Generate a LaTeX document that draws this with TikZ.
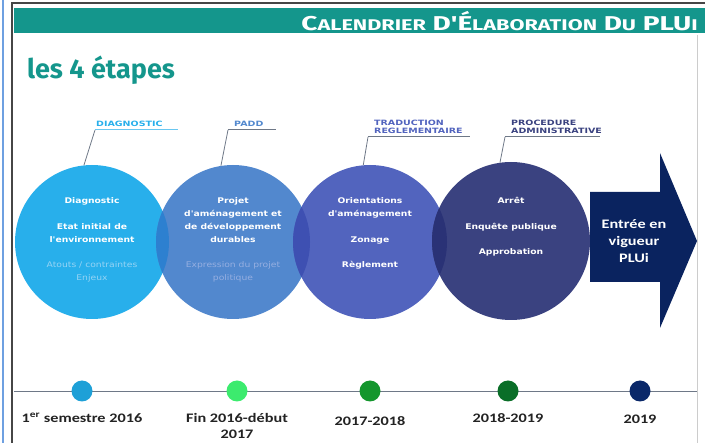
\documentclass[tikz,border=0pt]{standalone}
\usepackage{fontspec}
\setmainfont[FakeStretch=1.25]{Carlito}
\newfontfamily\circfont[FakeStretch=1.18]{DejaVu Sans}
\newfontfamily\lblfont[FakeStretch=1.3]{DejaVu Sans}
\newfontfamily\headfont{Fira Sans}
\usetikzlibrary{positioning}
\definecolor{bannerteal}{RGB}{20,150,140}
\definecolor{frameblue}{RGB}{110,160,225}
\definecolor{framegrey}{RGB}{70,70,70}
\definecolor{diagblue}{RGB}{40,175,235}
\definecolor{paddblue}{RGB}{82,136,206}
\definecolor{tradblue}{RGB}{82,100,190}
\definecolor{procblue}{RGB}{58,66,128}
\definecolor{lensone}{RGB}{45,128,208}
\definecolor{lenstwo}{RGB}{62,80,178}
\definecolor{lensthree}{RGB}{42,50,118}
\definecolor{arrownavy}{RGB}{10,35,95}
\definecolor{leadgrey}{RGB}{110,120,135}
\definecolor{fadeone}{RGB}{150,212,245}
\definecolor{fadetwo}{RGB}{150,175,225}
\definecolor{dotone}{RGB}{30,160,215}
\definecolor{dottwo}{RGB}{60,235,110}
\definecolor{dotthree}{RGB}{20,150,45}
\definecolor{dotfour}{RGB}{10,110,40}
\definecolor{dotfive}{RGB}{10,40,105}
\definecolor{datetext}{RGB}{35,35,35}

\begin{document}
\begin{tikzpicture}[x=1pt, y=-1pt,
    stage/.style={circle, minimum size=154pt, inner sep=0pt},
    stagetext/.style={anchor=north, align=center, text=white, inner sep=0pt,
      font=\circfont\bfseries\fontsize{7.8}{13}\selectfont},
    steplbl/.style={anchor=south west, align=left, inner sep=0pt,
      font=\lblfont\bfseries\fontsize{7.3}{8}\selectfont},
    datedot/.style={circle, minimum size=21pt, inner sep=0pt},
    datelbl/.style={anchor=north, align=center, inner sep=0pt, text=datetext,
      font=\bfseries\fontsize{13}{16}\selectfont}]
  \useasboundingbox (0,0) rectangle (705,443);
  % frame and banner
  \draw[frameblue, line width=1.5pt] (3,0) -- (3,443);
  \draw[framegrey, line width=1.2pt] (12,443) -- (12,3) -- (705,3);
  \draw[black!20, line width=0.8pt] (697,35) -- (697,443);
  \fill[bannerteal] (14,8) rectangle (705,33);
  \node[anchor=east, text=white, inner sep=0pt] (title) at (698,21)
    {\scalebox{1.4}[1]{\headfont\bfseries\fontsize{20}{20}\selectfont
     C{\fontsize{15.5}{15.5}\selectfont ALENDRIER} D'\'E{\fontsize{15.5}{15.5}\selectfont LABORATION}
     D{\fontsize{15.5}{15.5}\selectfont U} PLU{\fontsize{15.5}{15.5}\selectfont I}}};
  \node[anchor=west, text=bannerteal, inner sep=0pt] (etapes) at (27,70)
    {\headfont\bfseries\fontsize{27}{27}\selectfont les 4 étapes};

  % the four stages
  \node[stage, fill=diagblue] (diag) at (92,242) {};
  \node[stage, fill=paddblue] (padd) at (233,242) {};
  \node[stage, fill=tradblue] (trad) at (370,242) {};
  \node[stage, fill=procblue, minimum size=158pt] (proc) at (511,241) {};
  % darker overlaps
  \begin{scope}
    \clip (92,242) circle (77);
    \fill[lensone] (233,242) circle (77);
  \end{scope}
  \begin{scope}
    \clip (233,242) circle (77);
    \fill[lenstwo] (370,242) circle (77);
  \end{scope}
  \begin{scope}
    \clip (370,242) circle (77);
    \fill[lensthree] (511,241) circle (79);
  \end{scope}

  \node[stagetext] (diagtxt) at (92,197)
    {Diagnostic\\[13pt] Etat initial de\\ l'environnement\\[12pt]
     \textcolor{fadeone}{\mdseries Atouts / contraintes}\\ \textcolor{fadeone}{\mdseries Enjeux}};
  \node[stagetext] (paddtxt) at (233,197)
    {Projet\\ d'aménagement et\\ de développement\\ durables\\[12pt]
     \textcolor{fadetwo}{\mdseries Expression du projet}\\ \textcolor{fadetwo}{\mdseries politique}};
  \node[stagetext] (tradtxt) at (370,197)
    {Orientations\\ d'aménagement\\[13pt] Zonage\\[12pt] Règlement};
  \node[stagetext] (proctxt) at (511,197)
    {Arrêt\\[13pt] Enquête publique\\[12pt] Approbation};

  % stage labels with leader lines
  \node[steplbl, text=diagblue] (diaglbl) at (96,127) {DIAGNOSTIC};
  \node[steplbl, text=paddblue] (paddlbl) at (234,127) {PADD};
  \node[steplbl, text=tradblue] (tradlbl) at (374,134) {TRADUCTION\\ REGLEMENTAIRE};
  \node[steplbl, text=procblue] (proclbl) at (511,134) {PROCEDURE\\ ADMINISTRATIVE};
  \coordinate (diagbend) at (95,130);
  \coordinate (paddbend) at (228,130);
  \coordinate (tradbend) at (368,137);
  \coordinate (procbend) at (505,137);
  \draw[diagblue!70, line width=1pt] (diagbend) -- ++(83,0);
  \draw[leadgrey, line width=1pt] (paddbend) -- ++(48,0);
  \draw[leadgrey, line width=1pt] (tradbend) -- ++(102,0);
  \draw[leadgrey, line width=1pt] (procbend) -- ++(95,0);
  \draw[leadgrey, line width=0.8pt] (diagbend) -- (diag.96);
  \draw[leadgrey, line width=0.8pt] (paddbend) -- (padd.99);
  \draw[leadgrey, line width=0.8pt] (tradbend) -- (trad.95);
  \draw[leadgrey, line width=0.8pt] (procbend) -- (proc.98);

  % final arrow
  \fill[arrownavy] (590,192) -- (660,192) -- (660,153) -- (697,241)
    -- (660,328) -- (660,282) -- (590,282) -- cycle;
  \node[text=white, align=center, inner sep=0pt,
    font=\bfseries\fontsize{13}{17}\selectfont] (vigueur) at (634,241)
    {Entrée en\\ vigueur\\ PLUi};

  % timeline
  \coordinate (tlstart) at (14,391);
  \coordinate (tlend) at (697,391);
  \draw[leadgrey, line width=0.8pt] (tlstart) -- (tlend);
  \foreach \n/\dx/\dcol/\ly/\dlbl in {
      semone/82/dotone/413/{1\textsuperscript{er} semestre 2016},
      fin/237/dottwo/413/{Fin 2016-début\\ 2017},
      mid/370/dotthree/416/{2017-2018},
      late/508/dotfour/413/{2018-2019},
      final/640/dotfive/415/{2019}}{
    \node[datedot, fill=\dcol] (\n) at (\dx,391) {};
    \node[datelbl] (\n lbl) at (\dx,\ly) {\dlbl};
  }
\end{tikzpicture}
\end{document}
